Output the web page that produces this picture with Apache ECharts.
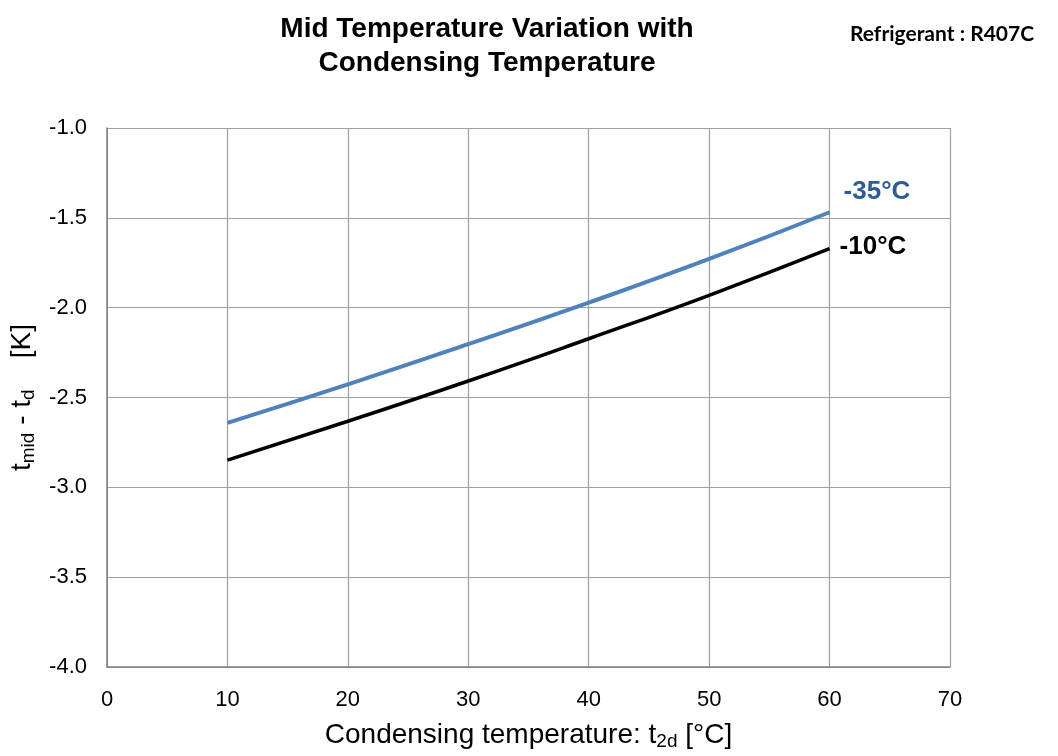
<!DOCTYPE html>
<html>
<head>
<meta charset="utf-8">
<script src="https://cdn.jsdelivr.net/npm/echarts@6/dist/echarts.min.js"></script>
<style>html,body{margin:0;padding:0;background:#fff;}#chart{width:1058px;height:756px;}</style>
</head>
<body>
<div id="chart"></div>
<script>
const condTemps = [10, 20, 30, 40, 50, 60];
const minus35 = [-2.641, -2.427, -2.203, -1.972, -1.729, -1.469];
const minus10 = [-2.849, -2.632, -2.408, -2.173, -1.931, -1.672];
const seriesNames = ['-35°C', '-10°C'];
const titleText = 'Mid Temperature Variation with\nCondensing Temperature';
const refrigerantText = 'Refrigerant : R407C';

const chart = echarts.init(document.getElementById('chart'));
const font = 'Liberation Sans, Arial, sans-serif';
chart.setOption({
  animation: false,
  backgroundColor: '#fff',
  title: [{
    text: titleText,
    left: 482, top: 7, textAlign: 'center',
    textStyle: { fontFamily: font, fontSize: 28, fontWeight: 'bold', color: '#000', lineHeight: 34 }
  }, {
    text: refrigerantText,
    left: 845, top: 19,
    textStyle: { fontFamily: 'Lato, sans-serif', fontSize: 21, fontWeight: 'bold', color: '#000' }
  }],
  grid: { left: 107, right: 108, top: 128, bottom: 84, containLabel: false },
  xAxis: {
    type: 'value', min: 0, max: 70, interval: 10,
    name: '{n|Condensing temperature: t}{s|2d}{n| [°C]}',
    nameLocation: 'middle', nameGap: 53,
    nameTextStyle: { rich: {
      n: { fontFamily: font, fontSize: 28, color: '#000' },
      s: { fontFamily: font, fontSize: 19, color: '#000', verticalAlign: 'bottom', padding: [12, 0, 0, 0] }
    } },
    axisLine: { show: true, lineStyle: { color: '#808080', width: 1.5 } },
    axisTick: { show: false },
    axisLabel: { fontFamily: font, fontSize: 22, color: '#000', margin: 22 },
    splitLine: { show: true, lineStyle: { color: '#a0a0a0', width: 1.2 } }
  },
  yAxis: {
    type: 'value', min: -4, max: -1, interval: 0.5,
    name: '{n|t}{s|mid}{n| - t}{s|d}{n|    [K]}',
    nameLocation: 'middle', nameGap: 60, nameRotate: 90,
    nameTextStyle: { rich: {
      n: { fontFamily: font, fontSize: 28, color: '#000' },
      s: { fontFamily: font, fontSize: 19, color: '#000', verticalAlign: 'bottom', padding: [12, 0, 0, 0] }
    } },
    axisLine: { show: true, lineStyle: { color: '#808080', width: 1.5 } },
    axisTick: { show: false },
    axisLabel: { fontFamily: font, fontSize: 22, color: '#000', margin: 20, formatter: v => v.toFixed(1) },
    splitLine: { show: true, lineStyle: { color: '#a0a0a0', width: 1.2 } }
  },
  series: [{
    name: seriesNames[0], type: 'line', smooth: true, showSymbol: false,
    data: condTemps.map((x, i) => [x, minus35[i]]),
    lineStyle: { color: '#4F81BD', width: 4 },
    itemStyle: { color: '#4F81BD' },
    endLabel: { show: true, formatter: seriesNames[0], offset: [6, -20],
      fontFamily: font, fontSize: 26, fontWeight: 'bold', color: '#2E5C9A' }
  }, {
    name: seriesNames[1], type: 'line', smooth: true, showSymbol: false,
    data: condTemps.map((x, i) => [x, minus10[i]]),
    lineStyle: { color: '#000', width: 3.5 },
    itemStyle: { color: '#000' },
    endLabel: { show: true, formatter: seriesNames[1], offset: [2, -2],
      fontFamily: font, fontSize: 26, fontWeight: 'bold', color: '#000' }
  }]
});
</script>
</body>
</html>
